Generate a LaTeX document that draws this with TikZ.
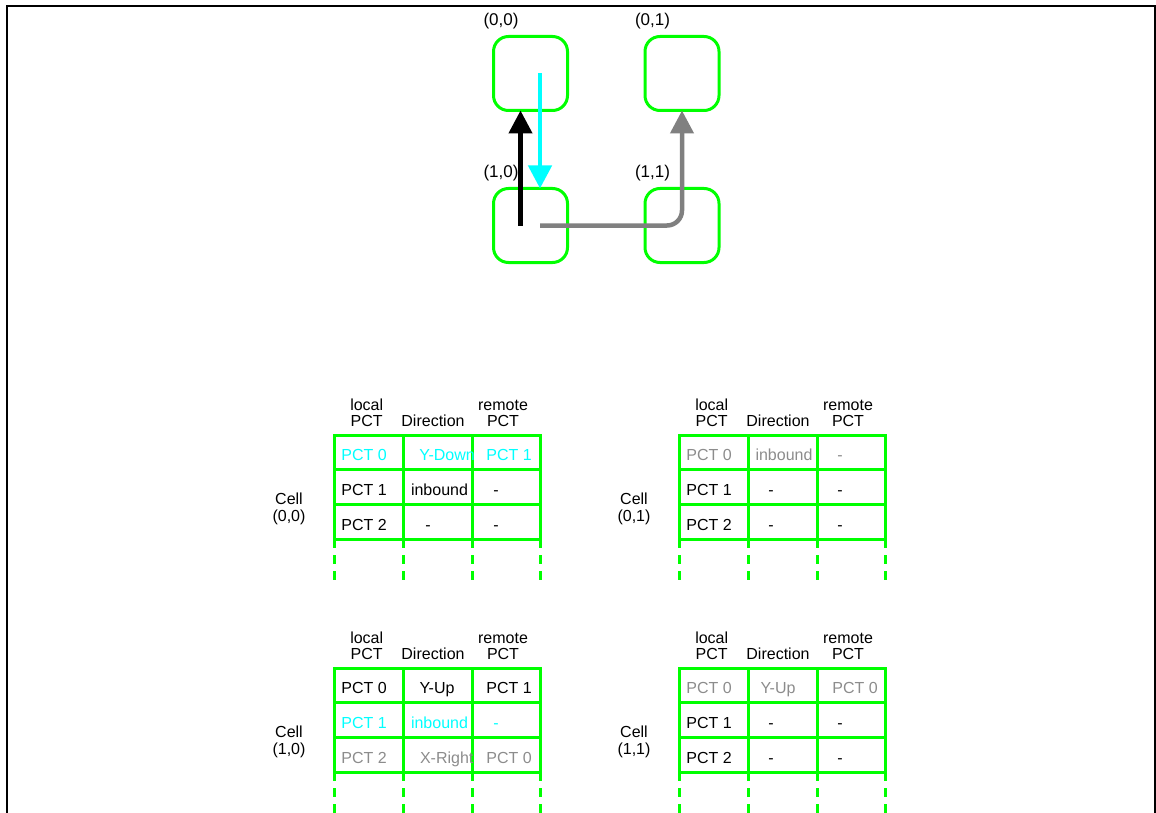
\documentclass[tikz,border=0pt]{standalone}
\usepackage{fontspec}
\setmainfont{Liberation Sans}
\usetikzlibrary{arrows.meta}
\usetikzlibrary{positioning}
\definecolor{mgreen}{rgb}{0, 1, 0}
\definecolor{mcyan}{rgb}{0, 1, 1}
\definecolor{mgray}{rgb}{0.55, 0.55, 0.55}
\definecolor{mdark}{rgb}{0.5, 0.5, 0.5}

\begin{document}
\begin{tikzpicture}[x=1pt,y=-1pt,
		tile/.style={draw=mgreen,line width=3pt,rounded corners=15pt,minimum size=74pt,inner sep=0pt,outer sep=0pt},
		coordlabel/.style={font=\fontsize{17}{19}\selectfont,inner sep=0pt,anchor=base},
		link/.style={line width=4.5pt,-{Triangle[length=23pt,width=23pt]}},
		tablegrid/.style={mgreen,line width=3pt},
		txt/.style={font=\fontsize{16}{16}\selectfont,inner sep=0pt,align=center,anchor=base}
	]
	\useasboundingbox (0,0) rectangle (1156,813);

	% the frame
	\draw[line width=2pt] (7,830) -- (7,6) -- (1155,6) -- (1155,830);

	% the cells of the mesh
	\foreach \r/\c/\xc/\yc in {0/0/530.5/73.5,0/1/682/73.5,1/0/530.5/225.5,1/1/682/225.5} {
		\node[tile] (t\r\c) at (\xc,\yc) {};
		\node[coordlabel] (l\r\c) at (\xc-29.5,\yc-47.5) {(\r,\c)};
	}

	% the routes
	\draw[link,black] ([xshift=-10pt]t10.center) -- ([xshift=-10pt]t00.south);
	\draw[link,mcyan] ([xshift=9.5pt]t00.center) -- ([xshift=9.5pt]t10.north);
	\draw[link,mdark,rounded corners=15pt] ([xshift=9.5pt]t10.center) -| (t01.south);

	% the tables of the cells
	\foreach \tx/\ty/\r/\c in {334/435/0/0,679/435/0/1,334/668/1/0,679/668/1/1} {
		\begin{scope}[shift={(\tx,\ty)}]
			\foreach \yl in {0,34,69,104}
				\draw[tablegrid,line cap=rect] (0,\yl) -- (206,\yl);
			\foreach \xl in {0,69,138,206} {
				\draw[tablegrid,line cap=rect] (\xl,0) -- (\xl,104);
				\draw[tablegrid,dash pattern=on 9pt off 7pt] (\xl,104) -- (\xl,147);
			}
			\node[txt] (hl\r\c) at (32.7,-9) {local\\PCT};
			\node[txt] (hd\r\c) at (99,-9) {Direction};
			\node[txt] (hr\r\c) at (169,-9) {remote\\PCT};
			\node[txt,font=\fontsize{16}{17}\selectfont] (cl\r\c) at (-45,86) {Cell\\(\r,\c)};
		\end{scope}
	}

	% the entries of the tables
	\foreach \tx/\ty/\yr/\col/\a/\b/\bx/\d/\dx [count=\k] in {
			334/435/25.8/mcyan/PCT 0/Y-Down/113/PCT 1/175,
			334/435/60.2/black/PCT 1/inbound/105.5/-/162,
			334/435/95/black/PCT 2/-/94/-/162,
			679/435/25.8/mgray/PCT 0/inbound/105/-/161,
			679/435/60.2/black/PCT 1/-/92/-/161,
			679/435/95/black/PCT 2/-/92/-/161,
			334/668/25.8/black/PCT 0/Y-Up/103/PCT 1/175,
			334/668/60.2/mcyan/PCT 1/inbound/105.5/-/162,
			334/668/95/mgray/PCT 2/X-Right/112.7/PCT 0/175,
			679/668/25.8/mgray/PCT 0/Y-Up/99/PCT 0/176,
			679/668/60.2/black/PCT 1/-/92/-/161,
			679/668/95/black/PCT 2/-/92/-/161} {
		\node[txt,text=\col] (ea\k) at (\tx+30,\ty+\yr) {\a};
		\node[txt,text=\col] (eb\k) at (\tx+\bx,\ty+\yr) {\b};
		\node[txt,text=\col] (ec\k) at (\tx+\dx,\ty+\yr) {\d};
	}
\end{tikzpicture}
\end{document}
